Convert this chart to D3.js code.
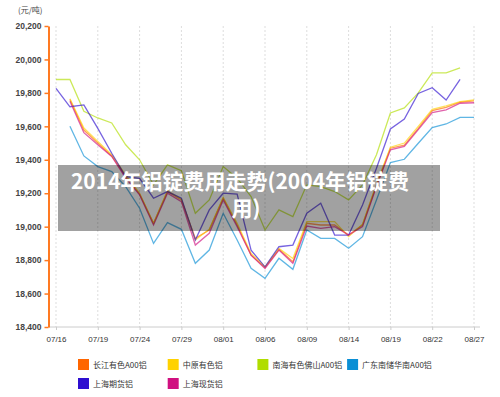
<!DOCTYPE html>
<html>
<head>
<meta charset="utf-8">
<script src="https://cdn.jsdelivr.net/npm/d3@7"></script>
<style>
    body { margin: 0; background: #fff; }
    svg { display: block; font-family: "Noto Sans CJK SC", "Noto Sans", sans-serif; }
</style>
</head>
<body>
<svg id="chart" width="500" height="397"></svg>
<script>
const dates = ["07/16","07/17","07/18","07/19","07/22","07/23","07/24","07/25","07/28","07/29","07/30",
    "07/31","08/01","08/04","08/05","08/06","08/07","08/08","08/09","08/12","08/13","08/14","08/15",
    "08/18","08/19","08/20","08/21","08/22","08/25","08/26","08/27"];
const tickLabels = ["07/16","07/19","07/24","07/29","08/01","08/06","08/09","08/14","08/19","08/22","08/27"];
const yTicks = [18400, 18600, 18800, 19000, 19200, 19400, 19600, 19800, 20000, 20200];

const names = ["长江有色A00铝", "中原有色铝", "南海有色佛山A00铝", "广东南储华南A00铝", "上海期货铝", "上海现货铝"];
const colors = ["#ff6600", "#ffd200", "#b0dd00", "#0a8fd5", "#2e0fd0", "#d01080"];

const changjiang = [null, 19760, 19578, 19500, 19423, 19300, 19195, 19020, 19209, 19160, 18930, 18980, 19170, 19010, 18830, 18755,
    18865, 18790, 19020, 19010, 19010, 18950, 19010, 19249, 19469, 19488, 19588, 19694, 19714, 19744, 19752];
const zhongyuan = [null, 19765, 19590, 19510, 19430, 19310, 19200, 19020, 19215, 19165, 18920, 18985, 19175, 19020, 18840, 18760,
    18870, 18810, 19030, 19030, 19030, 18940, 19015, 19255, 19475, 19500, 19600, 19702, 19722, 19748, 19758];
const nanhai = [19880, 19880, 19690, 19650, 19620, 19490, 19400, 19250, 19370, 19335, 19080, 19160, 19360, 19290, 19180, 18980,
    19100, 19060, 19250, 19240, 19210, 19160, 19250, 19430, 19680, 19710, 19800, 19920, 19920, 19950, null];
const guangdong = [null, 19600, 19423, 19359, 19329, 19239, 19110, 18900, 19024, 18984, 18781, 18860, 19080, 18920, 18751, 18691,
    18811, 18745, 18980, 18930, 18930, 18871, 18940, 19160, 19383, 19403, 19499, 19592, 19614, 19654, 19654];
const shfe = [19827, 19717, 19728, 19588, 19439, 19299, 19289, 19170, 19210, 19170, 18920, 19100, 19200, 19195, 18860, 18760,
    18880, 18890, 19080, 19140, 18950, 18950, 19130, 19349, 19584, 19644, 19797, 19831, 19757, 19881, null];
const shSpot = [null, 19750, 19562, 19490, 19420, 19290, 19190, 19010, 19200, 19150, 18890, 18960, 19160, 19000, 18830, 18750,
    18860, 18780, 19004, 18990, 19000, 18950, 19000, 19240, 19460, 19480, 19580, 19682, 19698, 19738, 19741];
const series = [changjiang, zhongyuan, nanhai, guangdong, shfe, shSpot];

const svg = d3.select("#chart");
const margin = { top: 26, right: 20, bottom: 70, left: 49 };
const height = 397;

const x = d3.scalePoint().domain(dates).range([56, 474]);
const y = d3.scaleLinear().domain([18400, 20200]).range([height - margin.bottom, margin.top]);

// vertical dotted grid
svg.append("g")
    .selectAll("line")
    .data(tickLabels)
    .join("line")
    .attr("x1", d => x(d)).attr("x2", d => x(d))
    .attr("y1", margin.top).attr("y2", y(18400))
    .attr("stroke", "#ddd")
    .attr("stroke-dasharray", "2,2");

// x axis
const xAxis = svg.append("g")
    .attr("transform", `translate(0,${ y(18400) })`)
    .call(d3.axisBottom(x).tickValues(tickLabels).tickSize(3).tickPadding(6).tickSizeOuter(0));
xAxis.select(".domain").attr("stroke", "#ccc").attr("d", `M${ margin.left },0H480`);
xAxis.selectAll(".tick line").attr("stroke", "#ccc");
xAxis.selectAll("text").attr("fill", "#333").attr("font-size", 8);

// y axis
const yAxis = svg.append("g")
    .attr("transform", `translate(${ margin.left - 0.5 },0)`)
    .call(d3.axisLeft(y).tickValues(yTicks).tickFormat(d3.format(",")).tickSize(4).tickPadding(3).tickSizeOuter(0));
yAxis.select(".domain").attr("stroke", "#ff7a22").attr("stroke-width", 2);
yAxis.selectAll(".tick line").attr("stroke", "#ff7a22").attr("stroke-width", 1.5);
yAxis.selectAll("text").attr("fill", "#444").attr("font-size", 8.5).attr("font-weight", "bold");

svg.append("text")
    .attr("x", 18).attr("y", 13)
    .attr("font-size", 8).attr("fill", "#444")
    .text("(元/吨)");

// lines
const line = d3.line()
    .defined(d => d != null)
    .x((d, i) => x(dates[i]))
    .y(d => y(d));

svg.append("g")
    .selectAll("path")
    .data(series)
    .join("path")
    .attr("fill", "none")
    .attr("stroke", (d, i) => colors[i])
    .attr("stroke-opacity", 0.65)
    .attr("stroke-width", 1.3)
    .attr("d", line);

// legend
const legend = svg.append("g")
    .selectAll("g")
    .data(names)
    .join("g")
    .attr("transform", (d, i) => `translate(${ 78 + (i % 4) * 89.7 },${ 359 + Math.floor(i / 4) * 19 })`);
legend.append("rect")
    .attr("width", 11).attr("height", 11)
    .attr("fill", (d, i) => colors[i]);
legend.append("text")
    .attr("x", 15).attr("y", 9)
    .attr("font-size", 8).attr("fill", "#333")
    .text(d => d);

// title overlay, wrapped over two lines
svg.append("rect")
    .attr("x", 58).attr("y", 165)
    .attr("width", 382).attr("height", 66)
    .attr("fill", "#000").attr("fill-opacity", 0.37);
const titleLines = ["2014年铝锭费用走势(2004年铝锭费", "用)"];
svg.append("g")
    .selectAll("text")
    .data(titleLines)
    .join("text")
    .attr("x", (d, i) => i ? 246 : 240)
    .attr("y", (d, i) => 189 + i * 27)
    .attr("text-anchor", "middle")
    .attr("fill", "#fff")
    .attr("font-size", 21)
    .attr("font-weight", "bold")
    .text(d => d);
</script>
</body>
</html>
